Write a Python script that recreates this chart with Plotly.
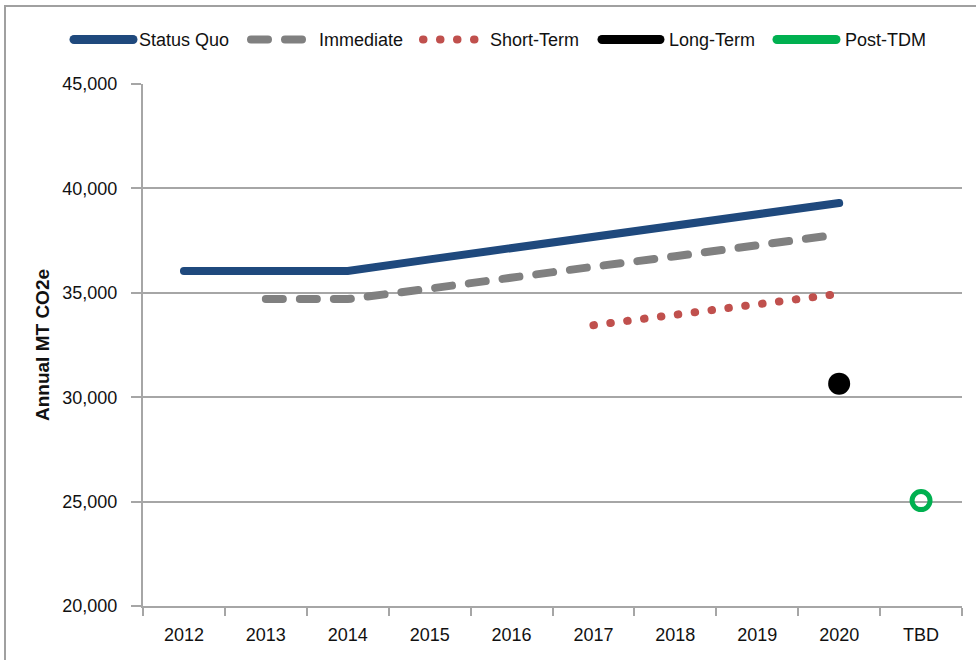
import plotly.graph_objects as go

categories = ["2012", "2013", "2014", "2015", "2016", "2017", "2018", "2019", "2020", "TBD"]
status_quo = [36050, 36050, 36050, 36600, 37150, 37700, 38200, 38750, 39300, None]
immediate = [None, 34700, 34700, 35200, 35750, 36250, 36750, 37300, 37800, None]
short_term = [None, None, None, None, None, 33450, 33950, 34450, 34950, None]
long_term = [None, None, None, None, None, None, None, None, 30650, None]
post_tdm = [None, None, None, None, None, None, None, None, None, 25050]
y_ticks = [20000, 25000, 30000, 35000, 40000, 45000]

C_SQ = "#1F497D"
C_IM = "#808080"
C_ST = "#C0504D"
C_LT = "#000000"
C_PT = "#00B050"
GRID = "#A6A6A6"
FONT = "Liberation Sans, Arial, sans-serif"
TXT = "#111111"
FS = 18

W, H = 976, 660
L, R, T, B = 143, 14, 84, 54
PW, PH = W - L - R, H - T - B

def px(x):
    return (x - L) / PW

def py(y):
    return (H - B - y) / PH

fig = go.Figure()
fig.add_trace(go.Scatter(x=categories, y=status_quo, mode="lines",
                         line=dict(color=C_SQ, width=8), name="Status Quo"))
fig.add_trace(go.Scatter(x=categories, y=immediate, mode="lines",
                         line=dict(color=C_IM, width=8, dash="17px,17px"), name="Immediate"))
fig.add_trace(go.Scatter(x=categories, y=short_term, mode="lines",
                         line=dict(color=C_ST, width=8, dash="0.5px,16.5px"), name="Short-Term"))
fig.add_trace(go.Scatter(x=categories, y=long_term, mode="markers",
                         marker=dict(color=C_LT, size=22), name="Long-Term"))
fig.add_trace(go.Scatter(x=categories, y=post_tdm, mode="markers",
                         marker=dict(symbol="circle-open", color=C_PT, size=18,
                                     line=dict(width=5, color=C_PT)), name="Post-TDM"))

shapes = []
annotations = []
# outer frame
shapes.append(dict(type="rect", xref="paper", yref="paper",
                   x0=px(5), x1=px(990), y0=py(675), y1=py(6),
                   line=dict(color="#A0A0A0", width=2), fillcolor="rgba(0,0,0,0)", layer="below"))

legend_items = [
    ("Status Quo", C_SQ, "solid", 74, 133, 137),
    ("Immediate", C_IM, "17px,17px", 251, 304, 317),
    ("Short-Term", C_ST, "0.5px,16.5px", 423, 476, 488),
    ("Long-Term", C_LT, "solid", 602, 660, 667),
    ("Post-TDM", C_PT, "solid", 777, 836, 843),
]
ly = 39.5
for name, col, dash, x0, x1, tx in legend_items:
    shapes.append(dict(type="line", xref="paper", yref="paper",
                       x0=px(x0), x1=px(x1), y0=py(ly), y1=py(ly),
                       line=dict(color=col, width=8 if col in (C_IM, C_ST) else 9, dash=dash)))
    annotations.append(dict(xref="paper", yref="paper", x=px(tx), y=py(ly),
                            xanchor="left", yanchor="middle", showarrow=False,
                            text=name, font=dict(family=FONT, size=FS, color=TXT)))

fig.update_layout(
    width=W, height=H,
    margin=dict(l=L, r=R, t=T, b=B),
    paper_bgcolor="white", plot_bgcolor="white",
    showlegend=False,
    shapes=shapes, annotations=annotations,
    font=dict(family=FONT, size=FS, color=TXT),
)
fig.update_xaxes(
    type="category", categoryorder="array", categoryarray=categories,
    range=[-0.5, len(categories) - 0.5],
    showline=True, linecolor=GRID, linewidth=2,
    ticks="outside", tickson="boundaries", ticklen=8, tickcolor=GRID, tickwidth=2,
    showgrid=False, tickfont=dict(family=FONT, size=FS, color=TXT),
    ticklabelstandoff=11,
)
fig.update_yaxes(
    range=[20000, 45000], tickvals=y_ticks, tickformat=",",
    showline=True, linecolor=GRID, linewidth=2,
    ticks="outside", ticklen=10, tickcolor=GRID, tickwidth=2,
    showgrid=True, gridcolor=GRID, gridwidth=1.5, zeroline=False,
    ticklabelstandoff=10,
    tickfont=dict(family=FONT, size=FS, color=TXT),
    title=dict(text="<b>Annual MT CO2e</b>", standoff=8,
               font=dict(family=FONT, size=19, color=TXT)),
)

js = ("var s=document.createElement('style');"
      "s.textContent='html, body{margin:0;padding:0;} .js-line, .shapelayer path{stroke-linecap:round;}';"
      "document.head.appendChild(s);")
fig.write_html("out.html", post_script=js, config={"displayModeBar": False})
